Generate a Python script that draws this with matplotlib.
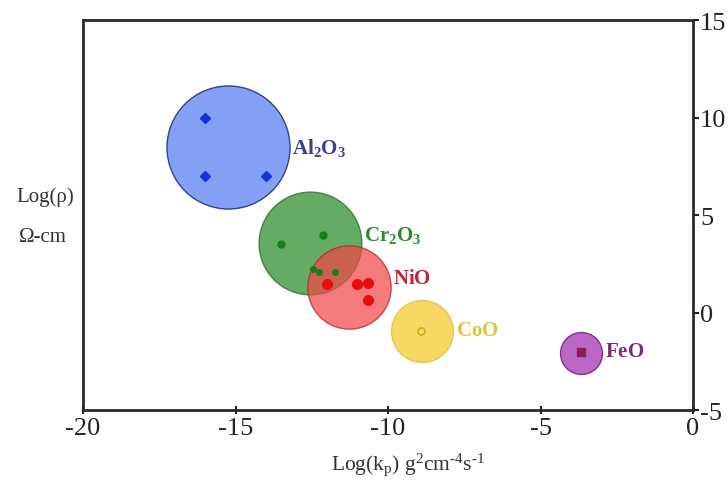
import matplotlib
matplotlib.use("Agg")
from matplotlib import pyplot as plt

plt.rcParams['font.family'] = ['Liberation Serif', 'DejaVu Serif']
plt.rcParams['mathtext.fontset'] = 'custom'
plt.rcParams['mathtext.rm'] = 'Liberation Serif'
plt.rcParams['mathtext.it'] = 'Liberation Serif:italic'
plt.rcParams['mathtext.bf'] = 'Liberation Serif:bold'
plt.rcParams['axes.unicode_minus'] = False

# oxide bubbles: centre (log kp, log rho) and bubble diameter in points
oxides = ['Al2O3', 'Cr2O3', 'NiO', 'CoO', 'FeO']
names = [r'$\mathbf{Al_2O_3}$', r'$\mathbf{Cr_2O_3}$', r'$\mathbf{NiO}$',
         r'$\mathbf{CoO}$', r'$\mathbf{FeO}$']
centre_kp = [-15.25, -12.56, -11.28, -8.89, -3.67]
centre_rho = [8.5, 3.6, 1.35, -0.9, -2.05]
diameter = [88.6, 74.0, 60.0, 44.6, 30.2]

# measured points inside each bubble
al_kp = [-16, -16, -14]
al_rho = [10, 7, 7]
cr_kp = [-13.5, -12.13]
cr_rho = [3.55, 4.0]
cr_small_kp = [-12.46, -12.26, -11.74]
cr_small_rho = [2.28, 2.08, 2.08]
ni_kp = [-12.0, -11.02, -10.66, -10.66]
ni_rho = [1.46, 1.46, 1.56, 0.69]
co_kp = [-8.92]
co_rho = [-0.9]
fe_kp = [-3.67]
fe_rho = [-2.0]

fill = ['#7b9cf4', '#4a9d48', '#f04848', '#f7d453', '#b95ec2']
alpha = [0.95, 0.85, 0.72, 0.9, 0.95]
edge = ['#2c3a8a', '#2d7a2d', '#b8202a', '#e6c445', '#7b2e82']
text_col = ['#3b3f8e', '#2e8a2e', '#c4213c', '#e2c43a', '#7a2a80']
label_dy = [0, 6, 6, 0, 1]

fig = plt.figure(figsize=(7.28, 4.81), dpi=100)
ax = fig.add_axes([0.114, 0.1445, 0.838, 0.811])

for i in range(len(oxides)):
    ax.scatter([centre_kp[i]], [centre_rho[i]], s=diameter[i] ** 2,
               color=fill[i], alpha=alpha[i], edgecolors=edge[i],
               linewidths=1.0, zorder=2 + 2 * i)
    ax.annotate(names[i], (centre_kp[i], centre_rho[i]),
                xytext=(diameter[i] / 2 + 2, label_dy[i]),
                textcoords='offset points', ha='left', va='center',
                fontsize=15, color=text_col[i], zorder=20)

ax.plot(al_kp, al_rho, 'D', color='#1232e0', ms=5.5, zorder=3)
ax.plot(cr_kp, cr_rho, 'o', color='#1d7a1d', ms=5, zorder=5)
ax.plot(cr_small_kp, cr_small_rho, 'o', color='#1d7a1d', ms=4, zorder=7)
ax.plot(ni_kp, ni_rho, 'o', color='#e80c12', ms=7, zorder=7)
ax.plot(co_kp, co_rho, 'o', mfc='#f8e04a', mec='#c9a82a', mew=1.2,
        ms=5, zorder=9)
ax.plot(fe_kp, fe_rho, 's', color='#8c1d5c', ms=5.5, zorder=11)

ax.set_xlim(-20, 0)
ax.set_ylim(-5, 15)
ax.set_xticks([-20, -15, -10, -5, 0])
ax.set_yticks([-5, 0, 5, 10, 15])
ax.yaxis.tick_right()
ax.tick_params(axis='x', direction='inout', length=6, width=1.5,
               labelsize=19, colors='#222222', pad=2)
ax.tick_params(axis='y', direction='out', length=4, width=1.5,
               labelsize=19, colors='#222222', pad=1)
for side in ['left', 'right', 'top', 'bottom']:
    ax.spines[side].set_linewidth(2.0)
    ax.spines[side].set_color('#2a2a2a')

ax.set_xlabel(r'Log(k$_\mathrm{p}$) g$^\mathrm{2}$cm$^{\text{-4}}$s$^{\text{-1}}$',
              fontsize=15.5, color='#333333', va='center')
ax.xaxis.set_label_coords(0.533, -0.135)
fig.text(45 / 728, 1 - 197 / 481, 'Log(ρ)', fontsize=15, color='#333333',
         ha='center', va='center')
fig.text(43 / 728, 1 - 238 / 481, 'Ω-cm', fontsize=15, color='#333333',
         ha='center', va='center')

fig.savefig('out.png', dpi=100)
